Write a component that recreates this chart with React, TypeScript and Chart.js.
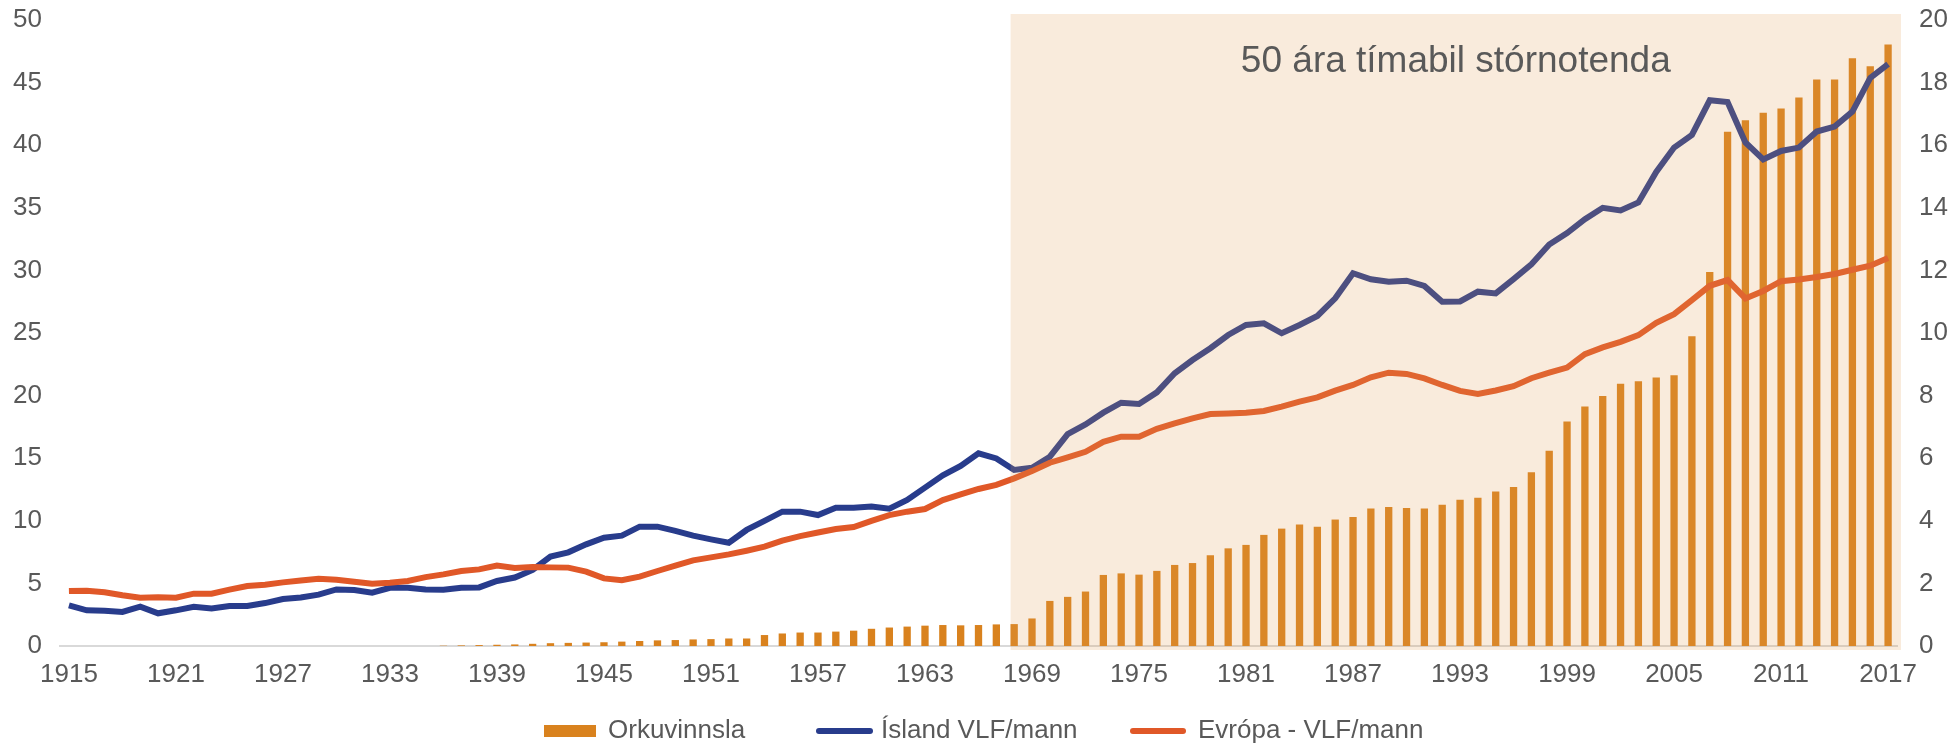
import React, { useEffect, useRef } from "react";
import { Chart, registerables } from "chart.js";

Chart.register(...registerables);

const YEARS: string[] = [
  "1915","1916","1917","1918","1919","1920","1921","1922","1923","1924",
  "1925","1926","1927","1928","1929","1930","1931","1932","1933","1934",
  "1935","1936","1937","1938","1939","1940","1941","1942","1943","1944",
  "1945","1946","1947","1948","1949","1950","1951","1952","1953","1954",
  "1955","1956","1957","1958","1959","1960","1961","1962","1963","1964",
  "1965","1966","1967","1968","1969","1970","1971","1972","1973","1974",
  "1975","1976","1977","1978","1979","1980","1981","1982","1983","1984",
  "1985","1986","1987","1988","1989","1990","1991","1992","1993","1994",
  "1995","1996","1997","1998","1999","2000","2001","2002","2003","2004",
  "2005","2006","2007","2008","2009","2010","2011","2012","2013","2014",
  "2015","2016","2017",
];

const X_TICK_LABELS: string[] = [
  "1915","1921","1927","1933","1939","1945","1951","1957","1963",
  "1969","1975","1981","1987","1993","1999","2005","2011","2017",
];

// Orkuvinnsla (right axis)
const ORKUVINNSLA: number[] = [
  0,0,0,0,0,0,0,0,0,0,
  0,0,0,0,0,0,0,0,0,0,
  0,0.01,0.02,0.03,0.04,0.05,0.07,0.09,0.1,0.11,
  0.12,0.14,0.16,0.18,0.19,0.21,0.22,0.24,0.24,0.35,
  0.4,0.43,0.43,0.46,0.49,0.55,0.59,0.62,0.65,0.67,
  0.66,0.67,0.69,0.7,0.88,1.44,1.57,1.74,2.27,2.32,
  2.28,2.4,2.59,2.65,2.9,3.12,3.23,3.55,3.75,3.88,
  3.81,4.04,4.12,4.39,4.44,4.41,4.39,4.51,4.67,4.74,
  4.94,5.08,5.55,6.24,7.17,7.65,7.99,8.38,8.46,8.58,
  8.65,9.9,11.95,16.43,16.8,17.04,17.17,17.52,18.1,18.1,
  18.78,18.52,19.22,
];

// Ísland VLF/mann (left axis)
const ISLAND: number[] = [
  3.25,2.85,2.82,2.72,3.14,2.61,2.85,3.14,3.0,3.19,
  3.19,3.43,3.75,3.88,4.1,4.52,4.47,4.26,4.65,4.65,
  4.52,4.5,4.65,4.68,5.19,5.47,6.07,7.14,7.48,8.12,
  8.65,8.81,9.53,9.53,9.19,8.81,8.52,8.25,9.27,10.0,
  10.73,10.73,10.46,11.05,11.05,11.15,10.97,11.66,12.65,13.63,
  14.38,15.39,14.98,14.06,14.24,15.12,16.93,17.7,18.64,19.43,
  19.33,20.26,21.78,22.84,23.78,24.84,25.64,25.77,24.98,25.64,
  26.36,27.77,29.77,29.29,29.1,29.18,28.76,27.5,27.52,28.3,
  28.16,29.3,30.49,32.07,32.98,34.09,35.0,34.79,35.43,37.86,
  39.81,40.82,43.59,43.45,40.22,38.87,39.54,39.81,41.09,41.49,
  42.68,45.37,46.48,
];

// Evrópa - VLF/mann (left axis)
const EVROPA: number[] = [
  4.39,4.42,4.29,4.05,3.86,3.89,3.86,4.18,4.18,4.5,
  4.79,4.9,5.08,5.24,5.37,5.29,5.13,4.97,5.05,5.19,
  5.5,5.72,5.99,6.12,6.42,6.24,6.31,6.28,6.26,5.94,
  5.4,5.25,5.54,5.99,6.42,6.84,7.08,7.32,7.61,7.93,
  8.41,8.78,9.07,9.34,9.5,10.0,10.46,10.73,10.94,11.66,
  12.11,12.54,12.87,13.39,13.97,14.64,15.06,15.51,16.31,16.72,
  16.72,17.35,17.78,18.18,18.53,18.58,18.63,18.77,19.12,19.52,
  19.86,20.4,20.85,21.46,21.83,21.73,21.38,20.85,20.38,20.14,
  20.41,20.75,21.39,21.83,22.24,23.31,23.85,24.29,24.83,25.81,
  26.51,27.62,28.77,29.23,27.76,28.36,29.14,29.27,29.47,29.71,
  30.05,30.38,30.99,
];

const SERIES_NAMES: string[] = ["Orkuvinnsla", "Ísland VLF/mann", "Evrópa - VLF/mann"];
const SHADE_START = "1968";
const SHADE_LABEL = "50 ára tímabil stórnotenda";

const FONT = '"Liberation Sans", Arial, Helvetica, sans-serif';
const TEXT_COLOR = "#595959";
const BAR_COLOR = "#D9821E";
const BLUE = "#283C8C";
const RED = "#E05828";

const shadePlugin = {
  id: "shade",
  afterDatasetsDraw(chart: any) {
    const { ctx, chartArea, scales } = chart;
    const x = scales.x;
    const y = scales.y;
    const idx = YEARS.indexOf(SHADE_START);
    const step = x.getPixelForValue(1) - x.getPixelForValue(0);
    const left = x.getPixelForValue(idx) - 0.2 * step;
    const right = chartArea.right + 4;
    const top = chartArea.top - 6;
    const bottom = y.getPixelForValue(0) + 4;
    ctx.save();
    ctx.fillStyle = "rgba(225,155,80,0.2)";
    ctx.fillRect(left, top, right - left, bottom - top);
    ctx.fillStyle = TEXT_COLOR;
    ctx.font = `37px ${FONT}`;
    ctx.textAlign = "center";
    ctx.textBaseline = "alphabetic";
    ctx.fillText(SHADE_LABEL, (left + right) / 2, top + 58);
    ctx.restore();
  },
};

const legendPlugin = {
  id: "customLegend",
  afterDraw(chart: any) {
    const { ctx } = chart;
    const cy = 723;
    ctx.save();
    ctx.font = `26px ${FONT}`;
    ctx.textBaseline = "middle";
    ctx.textAlign = "left";
    // bar swatch
    ctx.fillStyle = BAR_COLOR;
    ctx.fillRect(536, cy - 6, 52, 12);
    ctx.fillStyle = TEXT_COLOR;
    ctx.fillText(SERIES_NAMES[0], 600, cy);
    // blue line swatch
    ctx.lineCap = "round";
    ctx.lineWidth = 6;
    ctx.strokeStyle = BLUE;
    ctx.beginPath();
    ctx.moveTo(811, cy);
    ctx.lineTo(862, cy);
    ctx.stroke();
    ctx.fillText(SERIES_NAMES[1], 873, cy);
    // red line swatch
    ctx.strokeStyle = RED;
    ctx.beginPath();
    ctx.moveTo(1125, cy);
    ctx.lineTo(1175, cy);
    ctx.stroke();
    ctx.fillText(SERIES_NAMES[2], 1190, cy);
    ctx.restore();
  },
};

export default function App() {
  const ref = useRef<HTMLCanvasElement | null>(null);

  useEffect(() => {
    if (!ref.current) return;
    const chart = new Chart(ref.current, {
      type: "bar",
      data: {
        labels: YEARS,
        datasets: [
          {
            type: "line",
            label: SERIES_NAMES[2],
            data: EVROPA,
            borderColor: RED,
            backgroundColor: RED,
            borderWidth: 6,
            pointRadius: 0,
            tension: 0,
            yAxisID: "y",
            order: 0,
          } as any,
          {
            type: "line",
            label: SERIES_NAMES[1],
            data: ISLAND,
            borderColor: BLUE,
            backgroundColor: BLUE,
            borderWidth: 6,
            pointRadius: 0,
            tension: 0,
            yAxisID: "y",
            order: 1,
          } as any,
          {
            type: "bar",
            label: SERIES_NAMES[0],
            data: ORKUVINNSLA,
            backgroundColor: BAR_COLOR,
            barPercentage: 0.41,
            categoryPercentage: 1,
            yAxisID: "y1",
            order: 2,
          } as any,
        ],
      },
      options: {
        animation: false,
        responsive: false,
        maintainAspectRatio: false,
        layout: { padding: { top: 12, left: 0, right: 0, bottom: 50 } },
        plugins: {
          legend: { display: false },
          tooltip: { enabled: false },
          title: { display: false },
        },
        scales: {
          x: {
            offset: true,
            grid: { display: false, drawTicks: false },
            border: { display: true, color: "#D9D9D9", width: 2 },
            ticks: {
              autoSkip: false,
              maxRotation: 0,
              minRotation: 0,
              padding: 13,
              color: TEXT_COLOR,
              font: { family: FONT, size: 26 },
              callback: (_v: any, i: number) =>
                X_TICK_LABELS.includes(YEARS[i]) ? YEARS[i] : "",
            },
            afterFit: (s: any) => {
              s.height = 50;
              s.paddingLeft = 0;
              s.paddingRight = 0;
            },
          },
          y: {
            position: "left",
            min: 0,
            max: 50,
            grid: { display: false, drawTicks: false },
            border: { display: false },
            ticks: {
              stepSize: 5,
              padding: 18,
              color: TEXT_COLOR,
              font: { family: FONT, size: 26 },
            },
            afterFit: (s: any) => {
              s.width = 52;
              s.paddingTop = 0;
              s.paddingBottom = 0;
            },
          },
          y1: {
            position: "right",
            min: 0,
            max: 20,
            grid: { display: false, drawTicks: false },
            border: { display: false },
            ticks: {
              stepSize: 2,
              padding: 22,
              color: TEXT_COLOR,
              font: { family: FONT, size: 26 },
            },
            afterFit: (s: any) => {
              s.width = 55;
              s.paddingTop = 0;
              s.paddingBottom = 0;
            },
          },
        },
      },
      plugins: [shadePlugin, legendPlugin],
    });
    return () => chart.destroy();
  }, []);

  return (
    <div style={{ width: 1944, height: 738 }}>
      <canvas
        ref={ref}
        width={1944}
        height={738}
        style={{ display: "block", width: 1944, height: 738 }}
      />
    </div>
  );
}
